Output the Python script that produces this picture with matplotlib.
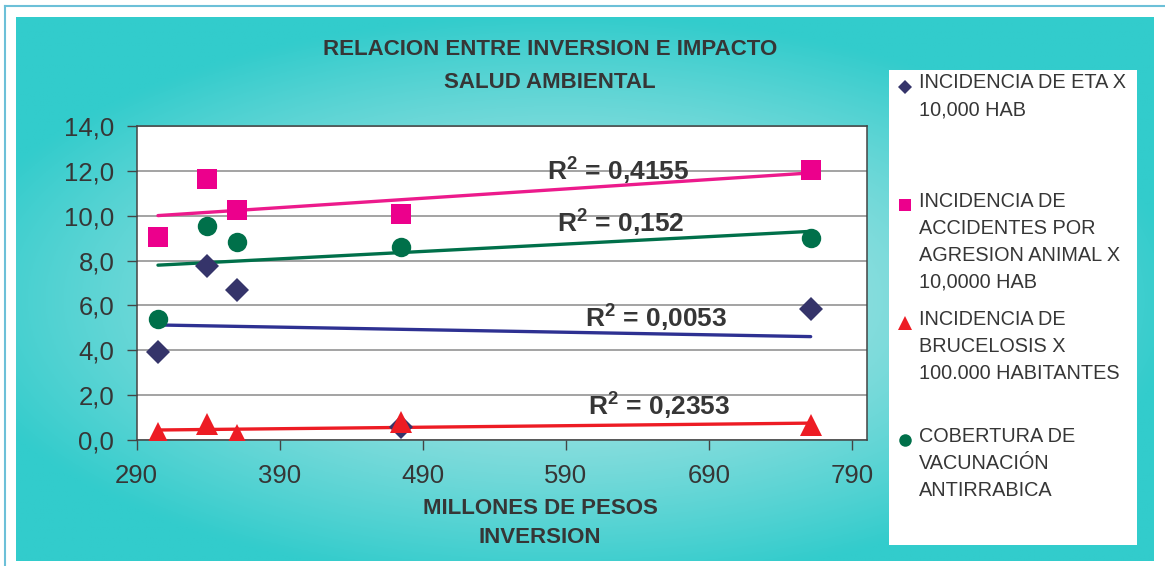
import numpy as np
import matplotlib
matplotlib.use("Agg")
import matplotlib.pyplot as plt
from matplotlib.lines import Line2D

# ---------------- data ----------------
inversion = [305, 339, 360, 475, 761]
eta = [3.94, 7.77, 6.69, 0.60, 5.83]
accidentes = [9.04, 11.62, 10.25, 10.06, 12.04]
brucelosis = [0.30, 0.70, 0.22, 0.82, 0.67]
cobertura = [5.38, 9.54, 8.84, 8.59, 8.99]

series_labels = [
    "INCIDENCIA DE ETA X\n10,000 HAB",
    "INCIDENCIA DE\nACCIDENTES POR\nAGRESION ANIMAL X\n10,0000 HAB",
    "INCIDENCIA DE\nBRUCELOSIS X\n100.000 HABITANTES",
    "COBERTURA DE\nVACUNACIÓN\nANTIRRABICA",
]
r2_labels = ["0,0053", "0,4155", "0,2353", "0,152"]
x_ticks = [290, 390, 490, 590, 690, 790]
y_ticks = [0, 2, 4, 6, 8, 10, 12, 14]

title = "RELACION ENTRE INVERSION E IMPACTO\nSALUD AMBIENTAL"
xlabel = "MILLONES DE PESOS\nINVERSION"

# ---------------- style ----------------
plt.rcParams['font.family'] = ['Liberation Sans', 'DejaVu Sans']
plt.rcParams['mathtext.fontset'] = 'custom'
plt.rcParams['mathtext.rm'] = 'Liberation Sans'
plt.rcParams['mathtext.bf'] = 'Liberation Sans:bold'

TXT = "#363636"
marker_colors = ["#35346a", "#ec008c", "#ed1c24", "#00704a"]
trend_colors = ["#2e3192", "#ec1a8c", "#ed1c24", "#00704a"]
markers = ["D", "s", "^", "o"]
msizes = [12.0, 14.5, 15.5, 14.0]
leg_msizes = [7.0, 8.5, 10.0, 9.0]

W, H = 1165, 566
fig = plt.figure(figsize=(W / 100, H / 100), dpi=100)
fig.patch.set_facecolor("white")

def fx(px):
    return px / W

def fy(py):
    return 1 - py / H

# outer border lines
fig.add_artist(Line2D([fx(5), fx(5)], [0, fy(6)], color="#6cc0d8", lw=1.5))
fig.add_artist(Line2D([fx(5), 1], [fy(6), fy(6)], color="#6cc0d8", lw=1.5))

# gradient background
L, R, T, B = 16, 1154, 17, 561
bg = fig.add_axes([fx(L), fy(B), fx(R - L), (B - T) / H])
bg.set_axis_off()
gx = np.linspace(L, R, 600)
gy = np.linspace(T, B, 300)
GX, GY = np.meshgrid(gx, gy)
d = np.sqrt(((GX - 560) / 620) ** 2 + ((GY - 300) / 285) ** 2)
d = np.clip(d, 0, 1)
light = np.array([0.74, 0.91, 0.91])
teal = np.array([0.20, 0.80, 0.80])
img = light[None, None, :] + (teal - light)[None, None, :] * d[..., None] ** 1.3
bg.imshow(img, extent=[0, 1, 0, 1], aspect="auto", origin="upper")
bg.set_xlim(0, 1)
bg.set_ylim(0, 1)

# main axes
ax = fig.add_axes([fx(136.5), fy(440), fx(866.5 - 136.5), (440 - 126) / H])
ax.set_facecolor("white")
ax.set_xlim(290, 800)
ax.set_ylim(0, 14)
ax.set_xticks(x_ticks)
ax.set_xticklabels([str(v) for v in x_ticks])
ax.set_yticks(y_ticks)
ax.set_yticklabels([f"{v:.1f}".replace(".", ",") for v in y_ticks])
ax.tick_params(axis="both", direction="out", length=7, width=1, color="#444444",
               labelsize=18.5, labelcolor=TXT)
ax.tick_params(axis="x", pad=10)
ax.tick_params(axis="y", pad=9)
ax.yaxis.grid(True, color="#8a8a8a", lw=1.1)
ax.set_axisbelow(True)
for s in ax.spines.values():
    s.set_color("#444444")
    s.set_linewidth(1.1)

all_series = [eta, accidentes, brucelosis, cobertura]
xa = np.array(inversion, dtype=float)
xx = np.array([xa.min(), xa.max()])
for ys, c in zip(all_series, trend_colors):
    k, b0 = np.polyfit(xa, np.array(ys), 1)
    ax.plot(xx, k * xx + b0, color=c, lw=2.4, solid_capstyle="round", zorder=3)
for ys, c, m, ms in zip(all_series, marker_colors, markers, msizes):
    ax.plot(inversion, ys, linestyle="none", marker=m, ms=ms, color=c,
            markeredgewidth=0, zorder=4)

# R^2 labels (positions in data coords)
r2_pos = [(603.5, 5.48), (577, 12.04), (605.5, 1.56), (584, 9.72)]
for (px, py), lab in zip(r2_pos, r2_labels):
    ax.text(px, py, r"R$^{\mathbf{2}}$ = " + lab, fontsize=19, fontweight="bold",
            color=TXT, ha="left", va="center", zorder=5)

# title & axis label
fig.text(fx(550), fy(66), title, ha="center", va="center", fontsize=16,
         fontweight="bold", color=TXT, linespacing=1.75)
fig.text(fx(540), fy(523), xlabel, ha="center", va="center", fontsize=16,
         fontweight="bold", color=TXT, linespacing=1.55)

# legend box
lg = fig.add_axes([fx(889), fy(545), fx(1137 - 889), (545 - 70) / H])
lg.set_xlim(889, 1137)
lg.set_ylim(545, 70)
lg.set_facecolor("white")
for s in lg.spines.values():
    s.set_visible(False)
lg.set_xticks([])
lg.set_yticks([])
entry_top = [86.5, 205, 323, 440]
for lab, c, m, ms, yt in zip(series_labels, marker_colors, markers, leg_msizes, entry_top):
    lg.plot([905], [yt], linestyle="none", marker=m, ms=ms, color=c, markeredgewidth=0)
    lg.text(919, yt - 13, lab, ha="left", va="top", fontsize=14.3, color=TXT,
            linespacing=1.52)

fig.savefig("out.png", dpi=100)
